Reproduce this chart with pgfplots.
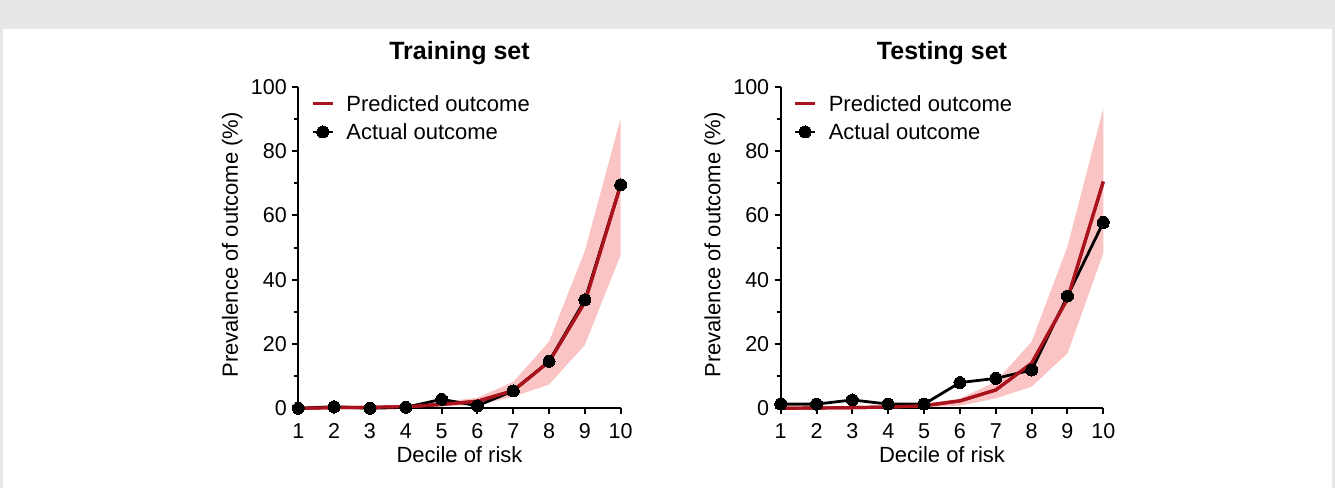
\documentclass[border=0pt]{standalone}
\usepackage{fontspec}
\setmainfont{Liberation Sans}
\usepackage{pgfplots}
\pgfplotsset{compat=1.18}
\definecolor{bg}{RGB}{230,231,231}
\definecolor{band}{RGB}{251,196,196}
\definecolor{predred}{RGB}{170,18,28}

\pgfplotsset{
  myaxis/.style={
    scale only axis, height=321.6pt,
    xmin=1, xmax=10, ymin=0, ymax=100, clip=false,
    axis lines=left, axis line style={-, line width=2pt, black},
    xtick={1,...,10}, ytick={0,20,...,100}, minor ytick={10,30,...,90},
    tick align=outside, major tick length=6pt, minor tick length=4pt,
    major tick style={line width=2pt, black},
    minor tick style={line width=2pt, black},
    tick label style={font=\fontsize{21.5}{26}\selectfont},
    /pgf/number format/assume math mode=true,
    xticklabel style={yshift=-6pt},
    yticklabel style={xshift=-2pt},
    label style={font=\fontsize{22}{26}\selectfont},
    xlabel={Decile of risk}, ylabel={Prevalence of outcome (\%)},
    xlabel style={at={(axis description cs:0.5,-0.170)}, anchor=base},
    ylabel style={at={(axis description cs:-0.205,0.508)}, anchor=center},
    title style={at={(axis description cs:0.5,1.067)}, anchor=base, font=\fontsize{25}{30}\selectfont\bfseries},
    legend style={at={(axis description cs:0.030,0.987)}, anchor=north west, draw=none, fill=none,
      font=\fontsize{22}{26}\selectfont, row sep=6.7pt},
    legend cell align=left,
    legend image code/.code={\draw[mark repeat=2,mark phase=2,##1] plot coordinates {(0pt,0pt) (10pt,0pt) (20pt,0pt)}; \path (30pt,0pt);},
  },
  bandstyle/.style={fill=band, draw=none, forget plot},
  predstyle/.style={color=predred, line width=3.2pt, no markers},
  actstyle/.style={color=black, line width=2.8pt, mark=*, mark size=6pt, mark options={fill=black, line width=0pt}},
}

\begin{document}
\begin{tikzpicture}
\fill[bg] (0pt,0pt) rectangle (1335pt,488pt);
\fill[white] (3.3pt,0pt) rectangle (1331.7pt,458.7pt);

\begin{axis}[myaxis, width=322.4pt, at={(298.3pt,79.7pt)}, anchor=south west, title={Training set}]
% confidence band: upper edge 1..10 then lower edge 10..1
\addplot[bandstyle] coordinates {(1,0.4) (2,0.6) (3,0.8) (4,1.1) (5,2.0) (6,3.3) (7,8.2) (8,20.7) (9,49) (10,90.2)
  (10,47.7) (9,19.7) (8,7.4) (7,3.6) (6,1.0) (5,0.6) (4,0.2) (3,0.1) (2,0) (1,0)} -- cycle;
\addplot[predstyle] coordinates {(1,0) (2,0.2) (3,0.3) (4,0.5) (5,1.2) (6,2.2) (7,5.5) (8,14.5) (9,33) (10,69.5)};
\addlegendentry{Predicted outcome}
\addplot[actstyle] coordinates {(1,0) (2,0.5) (3,0) (4,0.3) (5,2.8) (6,0.8) (7,5.4) (8,14.6) (9,33.7) (10,69.5)};
\addlegendentry{Actual outcome}
\addplot[predstyle, forget plot] coordinates {(1,0) (2,0.2) (3,0.3) (4,0.5) (5,1.2) (6,2.2) (7,5.5) (8,14.5) (9,33) (10,69.5)};
\end{axis}

\begin{axis}[myaxis, width=322.6pt, at={(780.7pt,79.7pt)}, anchor=south west, title={Testing set}]
\addplot[bandstyle] coordinates {(1,0.3) (2,0.4) (3,0.6) (4,0.8) (5,1.5) (6,3.0) (7,8.3) (8,20.7) (9,50.3) (10,93.3)
  (10,48.2) (9,17.1) (8,6.7) (7,3.1) (6,0.8) (5,0.3) (4,0.1) (3,0.05) (2,0) (1,0)} -- cycle;
\addplot[predstyle] coordinates {(1,0) (2,0.1) (3,0.2) (4,0.4) (5,0.8) (6,2.3) (7,5.7) (8,14) (9,34) (10,70.5)};
\addlegendentry{Predicted outcome}
\addplot[actstyle] coordinates {(1,1.3) (2,1.3) (3,2.6) (4,1.3) (5,1.3) (6,8.0) (7,9.3) (8,11.9) (9,34.9) (10,57.8)};
\addlegendentry{Actual outcome}
\addplot[predstyle, forget plot] coordinates {(1,0) (2,0.1) (3,0.2) (4,0.4) (5,0.8) (6,2.3) (7,5.7) (8,14) (9,34) (10,70.5)};
\end{axis}
\end{tikzpicture}
\end{document}
